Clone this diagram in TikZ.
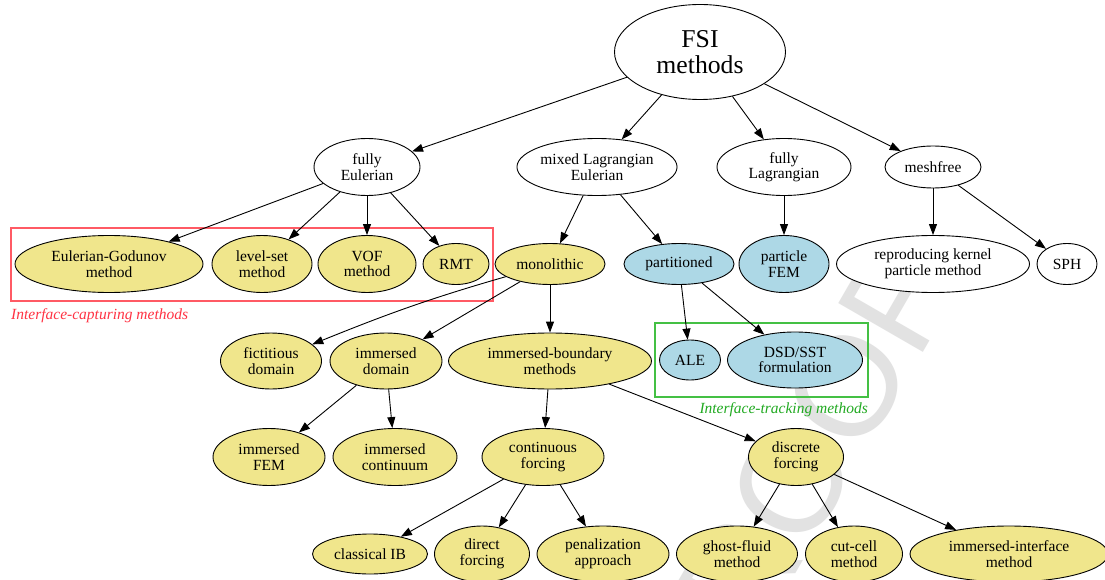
\documentclass[tikz,border=0pt]{standalone}
\usepackage{fontspec}
\setmainfont{Liberation Serif}
\newfontfamily\wmfont{Liberation Sans}
\usetikzlibrary{shapes.geometric,arrows.meta}
\definecolor{khakiF}{HTML}{F0E68C}
\definecolor{lblue}{HTML}{ADD8E6}
\definecolor{redbox}{HTML}{FF5A64}
\definecolor{redtxt}{HTML}{FF3344}
\definecolor{grnbox}{HTML}{44C044}
\definecolor{grntxt}{HTML}{22AA22}
\definecolor{wmgray}{HTML}{E2E2E2}
\begin{document}
\begin{tikzpicture}[x=1pt,y=-1pt,
  nd/.style={ellipse, draw=black, line width=0.9pt, inner sep=0pt, align=center,
             font=\fontsize{15.5}{15.5}\selectfont},
  wh/.style={nd, fill=white},
  kh/.style={nd, fill=khakiF},
  bl/.style={nd, fill=lblue},
  sz/.style 2 args={minimum width=#1pt, minimum height=#2pt},
  arr/.style={line width=0.9pt, -{Triangle[length=11pt,width=8pt]}},
  grouplabel/.style={inner sep=0pt, font=\itshape\fontsize{15.5}{15.5}\selectfont}]
\useasboundingbox[fill=white] (0,0) rectangle (1105,580);

% watermark
\node[text=wmgray, font=\wmfont\fontsize{142}{142}\selectfont, rotate=60, inner sep=0pt] (wm) at (792,482) {PROOF};

% level 0
\node[wh, sz={171}{95}, font=\fontsize{25.7}{26}\selectfont] (fsi) at (700,52) {FSI\\methods};
% level 1
\node[wh, sz={106}{57}] (feul) at (367,167) {fully\\Eulerian};
\node[wh, sz={158}{57}] (mle) at (597,167) {mixed Lagrangian\\Eulerian};
\node[wh, sz={134}{57}] (flag) at (784,167) {fully\\Lagrangian};
\node[wh, sz={96}{42}] (mesh) at (933,167) {meshfree};
% level 2
\node[kh, sz={188}{57}] (eg) at (109,264) {Eulerian-Godunov\\method};
\node[kh, sz={100}{57}] (ls) at (262,264) {level-set\\method};
\node[kh, sz={98}{57}] (vof) at (367,264) {VOF\\method};
\node[kh, sz={66}{41}] (rmt) at (456,264) {RMT};
\node[kh, sz={110}{41}] (mono) at (550,264) {monolithic};
\node[bl, sz={110}{41}] (part) at (679,264) {partitioned};
\node[bl, sz={90}{57}] (pfem) at (784,264) {particle\\FEM};
\node[wh, sz={193}{57}] (rkpm) at (933,264) {reproducing kernel\\particle method};
\node[wh, sz={60}{41}] (sph) at (1067,264) {SPH};
% level 3
\node[kh, sz={101}{56}] (fict) at (271,361) {fictitious\\domain};
\node[kh, sz={112}{56}] (imd) at (386,361) {immersed\\domain};
\node[kh, sz={203}{56}] (ibm) at (550,361) {immersed-boundary\\methods};
\node[bl, sz={61}{40}] (ale) at (690,360) {ALE};
\node[bl, sz={135}{56}] (dsd) at (795,360) {DSD/SST\\formulation};
% level 4
\node[kh, sz={112}{57}] (imfem) at (269,457) {immersed\\FEM};
\node[kh, sz={124}{57}] (imcont) at (395,457) {immersed\\continuum};
\node[kh, sz={122}{57}] (cf) at (543,457) {continuous\\forcing};
\node[kh, sz={95}{57}] (df) at (796,457) {discrete\\forcing};
% level 5
\node[kh, sz={115}{40}] (cib) at (370,554) {classical IB};
\node[kh, sz={95}{56}] (dforc) at (482,554) {direct\\forcing};
\node[kh, sz={132}{56}] (pen) at (603,554) {penalization\\approach};
\node[kh, sz={121}{56}] (gf) at (737,554) {ghost-fluid\\method};
\node[kh, sz={97}{56}] (cc) at (854,554) {cut-cell\\method};
\node[kh, sz={198}{56}] (ii) at (1009,554) {immersed-interface\\method};

% group boxes and labels
\draw[redbox, line width=1.2pt] (11,228) rectangle (493,301);
\node[grouplabel, text=redtxt, anchor=base west] (lcap) at (11,319) {Interface-capturing methods};
\draw[grnbox, line width=1.2pt] (655,323) rectangle (868,397);
\node[grouplabel, text=grntxt, anchor=base east] (ltrk) at (868,413) {Interface-tracking methods};

% edges
\draw[arr] (fsi) -- (feul);
\draw[arr] (fsi) -- (mle);
\draw[arr] (fsi) -- (flag);
\draw[arr] (fsi) -- (mesh);
\draw[arr] (feul) -- (eg);
\draw[arr] (feul) -- (ls);
\draw[arr] (feul) -- (vof);
\draw[arr] (feul) -- (rmt);
\draw[arr] (mle) -- (mono);
\draw[arr] (mle) -- (part);
\draw[arr] (flag) -- (pfem);
\draw[arr] (mesh) -- (rkpm);
\draw[arr] (mesh) -- (sph);
\draw[arr] (mono) to[out=196,in=22] (fict);
\draw[arr] (mono) -- (imd);
\draw[arr] (mono) -- (ibm);
\draw[arr] (part) -- (ale);
\draw[arr] (part) -- (dsd);
\draw[arr] (imd) -- (imfem);
\draw[arr] (imd) -- (imcont);
\draw[arr] (ibm) -- (cf);
\draw[arr] (ibm) -- (df);
\draw[arr] (cf) -- (cib);
\draw[arr] (cf) -- (dforc);
\draw[arr] (cf) -- (pen);
\draw[arr] (df) -- (gf);
\draw[arr] (df) -- (cc);
\draw[arr] (df) -- (ii);
\end{tikzpicture}
\end{document}
